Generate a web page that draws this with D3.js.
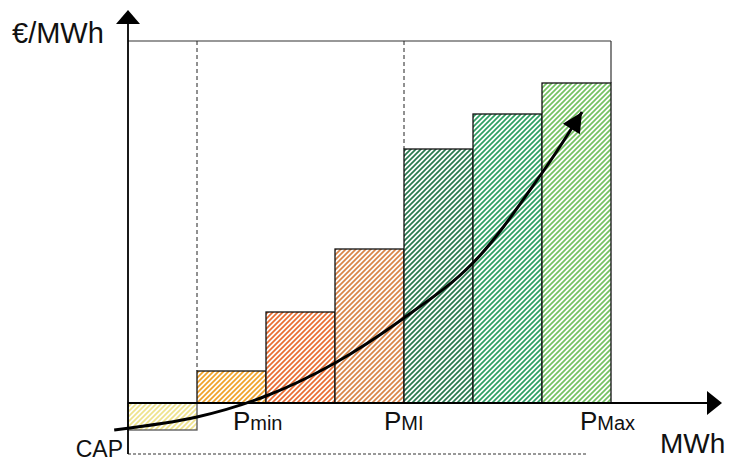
<!DOCTYPE html>
<html>
<head>
<meta charset="utf-8">
<script src="https://cdn.jsdelivr.net/npm/d3@7"></script>
<style>
  body { margin: 0; background: #fff; }
  text { font-family: "Liberation Sans", Arial, sans-serif; fill: #111; }
</style>
</head>
<body>
<div id="chart"></div>
<script>
// chart size
var width = 733, height = 461;

// bar blocks (one per step, first one is the CAP block below zero)
var steps = ["CAP", "s1", "s2", "s3", "s4", "s5", "s6"];
var prices = [-27, 32, 91, 154, 254, 289, 320];
var stripeColors = ["#efe38c", "#f0a22a", "#e96d32", "#d98548", "#2a7a4e", "#2f9f62", "#74c262"];

// reference lines (x positions in step units)
var dashedAt = [1, 4];
var priceMax = 362;   // top frame line
var priceMin = -51;   // bottom dashed line

// points labels
var labels = [
    { sub: "min", x: 1.52 },
    { sub: "MI", x: 3.71 },
    { sub: "Max", x: 6.55 }
];

// trend curve, [step, price]
var curve = [[-0.2, -27], [1, -14], [2, 7], [3, 40], [4, 85], [5, 140], [6, 230], [6.58, 291]];

var x = d3.scaleLinear().domain([0, 7]).range([128, 611]);
var y = d3.scaleLinear().domain([0, priceMax]).range([403, 41]);

var svg = d3.select("#chart")
    .append("svg")
    .attr("width", width)
    .attr("height", height);

var defs = svg.append("defs");

// one hatch pattern per bar
stripeColors.forEach(function(c, i) {
    var p = defs.append("pattern")
        .attr("id", "hatch" + i)
        .attr("patternUnits", "userSpaceOnUse")
        .attr("width", 5)
        .attr("height", 5);
    p.append("rect").attr("width", 5).attr("height", 5).attr("fill", "#fff");
    p.append("path")
        .attr("d", "M-1,1 l2,-2 M0,5 l5,-5 M4,6 l2,-2")
        .attr("stroke", c)
        .attr("stroke-width", 1.7);
});

// arrow head for the curve
defs.append("marker")
    .attr("id", "arrow")
    .attr("viewBox", "0 0 10 10")
    .attr("refX", 10)
    .attr("refY", 5)
    .attr("markerUnits", "userSpaceOnUse")
    .attr("markerWidth", 24)
    .attr("markerHeight", 20)
    .attr("orient", "auto")
    .append("path")
    .attr("d", "M0,0 L10,5 L0,10 z")
    .attr("fill", "#000");

// frame: top line and right line
svg.append("line")
    .attr("x1", x(0)).attr("x2", x(7))
    .attr("y1", y(priceMax)).attr("y2", y(priceMax))
    .style("stroke", "#333").style("stroke-width", 1.2);
svg.append("line")
    .attr("x1", x(7)).attr("x2", x(7))
    .attr("y1", y(priceMax)).attr("y2", y(prices[6]))
    .style("stroke", "#333").style("stroke-width", 1.2);

// dashed verticals
svg.selectAll("vdash")
    .data(dashedAt)
    .enter()
    .append("line")
    .attr("x1", function(d) { return x(d); })
    .attr("x2", function(d) { return x(d); })
    .attr("y1", y(priceMax))
    .attr("y2", function(d) { return y(prices[d]); })
    .style("stroke", "#222")
    .style("stroke-width", 1)
    .style("stroke-dasharray", "4,3");

// bars
svg.selectAll("bar")
    .data(prices)
    .enter()
    .append("rect")
    .attr("x", function(d, i) { return x(i); })
    .attr("y", function(d) { return y(Math.max(0, d)); })
    .attr("width", x(1) - x(0))
    .attr("height", function(d) { return Math.abs(y(d) - y(0)); })
    .attr("fill", function(d, i) { return "url(#hatch" + i + ")"; })
    .style("stroke", function(d, i) { return i == 0 ? "#555" : "#111"; })
    .style("stroke-width", 1.3);

// bottom dashed line
svg.append("line")
    .attr("x1", x(0)).attr("x2", 588)
    .attr("y1", y(priceMin)).attr("y2", y(priceMin))
    .style("stroke", "#333")
    .style("stroke-width", 1)
    .style("stroke-dasharray", "3,2");

// axes
svg.append("line")
    .attr("x1", x(0)).attr("x2", x(0))
    .attr("y1", 22).attr("y2", y(priceMin))
    .style("stroke", "#000").style("stroke-width", 1.8);
svg.append("path")
    .attr("d", "M" + (x(0) - 12) + ",24 L" + x(0) + ",10 L" + (x(0) + 12) + ",24 Z")
    .attr("fill", "#000");
svg.append("line")
    .attr("x1", x(0)).attr("x2", 709)
    .attr("y1", y(0)).attr("y2", y(0))
    .style("stroke", "#000").style("stroke-width", 1.8);
svg.append("path")
    .attr("d", "M707," + (y(0) - 12) + " L722," + y(0) + " L707," + (y(0) + 12) + " Z")
    .attr("fill", "#000");

// curve with arrow
svg.append("path")
    .datum(curve)
    .attr("d", d3.line()
        .x(function(d) { return x(d[0]); })
        .y(function(d) { return y(d[1]); })
        .curve(d3.curveCatmullRom))
    .attr("fill", "none")
    .style("stroke", "#000")
    .style("stroke-width", 3)
    .attr("marker-end", "url(#arrow)");

// P labels
var lab = svg.selectAll("plabel")
    .data(labels)
    .enter()
    .append("text")
    .attr("x", function(d) { return x(d.x); })
    .attr("y", 430);
lab.append("tspan").style("font-size", "26px").text("P");
lab.append("tspan").style("font-size", "20px").text(function(d) { return d.sub; });

// axis titles
svg.append("text")
    .attr("x", 12).attr("y", 43)
    .style("font-size", "29px")
    .text("€/MWh");
svg.append("text")
    .attr("x", 660).attr("y", 453)
    .style("font-size", "28px")
    .text("MWh");
svg.append("text")
    .attr("x", 123).attr("y", 457)
    .attr("text-anchor", "end")
    .style("font-size", "23px")
    .text("CAP");
</script>
</body>
</html>
